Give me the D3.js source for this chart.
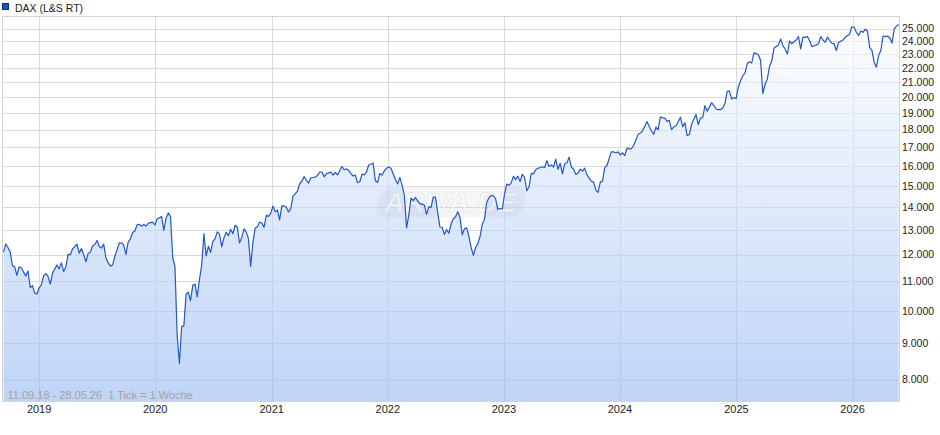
<!DOCTYPE html>
<html><head><meta charset="utf-8">
<script src="https://cdn.jsdelivr.net/npm/d3@7"></script>
<style>
html,body{margin:0;padding:0;background:#fff;}
svg{display:block;font-family:"Liberation Sans",Arial,Helvetica,sans-serif;}
</style></head><body>
<svg id="chart" width="940" height="435"></svg>
<script>
// ---- data (weekly ticks) ----
const seriesName = "DAX (L&S RT)";
const startDate = "2018-09-11";
const endDate = "2026-05-28";
const footnote = "11.09.18 - 28.05.26  1 Tick = 1 Woche";

const dax2018 = [12100, 12430, 12280, 12110, 11580, 11540, 11220, 11530, 11500, 11340, 11200, 11380, 10790, 10850, 10600, 10560];
const dax2019 = [10768, 10887, 11205, 11282, 11181, 10907, 11299, 11457, 11601, 11458, 11686, 11364, 11526, 12010, 11999, 12222, 12315, 12412, 12060, 12239, 12011, 11727, 12045, 12096, 12340, 12399, 12568, 12323, 12260, 12419, 11872, 11694, 11562, 11612, 11939, 12191, 12469, 12468, 12381, 12013, 12512, 12634, 12895, 12961, 13229, 13242, 13164, 13236, 13167, 13283, 13319, 13337, 13219];
const dax2020 = [13483, 13526, 13577, 12982, 13514, 13744, 13579, 11890, 11542, 9232, 8430, 9500, 9525, 10565, 10626, 10336, 10861, 10905, 10465, 11074, 11587, 12848, 11949, 12331, 12089, 12528, 12633, 12920, 12838, 12313, 12675, 12901, 12765, 13033, 12843, 13203, 13116, 12469, 12689, 13051, 12909, 12646, 11556, 12480, 13077, 13137, 13335, 13298, 13114, 13631, 13587, 13719];
const dax2021 = [14050, 13788, 13874, 13433, 14057, 14050, 13993, 13786, 13920, 14502, 14621, 14749, 15107, 15234, 15460, 15280, 15136, 15400, 15417, 15437, 15520, 15693, 15693, 15448, 15607, 15650, 15688, 15540, 15669, 15544, 15761, 15977, 15808, 15852, 15781, 15609, 15490, 15531, 15156, 15206, 15587, 15543, 15688, 16054, 16094, 16160, 15257, 15170, 15623, 15532, 15756, 15885];
const dax2022 = [15948, 15883, 15603, 15318, 15099, 15425, 15042, 14567, 13094, 13628, 14413, 14306, 14446, 14284, 14164, 14142, 14098, 13674, 14028, 13982, 14462, 14460, 13762, 13127, 13118, 12813, 13015, 12864, 13254, 13484, 13574, 13795, 13544, 12800, 13050, 13088, 12741, 12284, 11970, 12273, 12438, 12731, 13243, 13460, 14224, 14431, 14541, 14529, 14370, 13893, 13941, 13924];
const dax2023 = [14610, 15087, 15033, 15150, 15476, 15308, 15482, 15210, 15578, 15428, 14768, 14957, 15629, 15598, 15808, 15882, 15922, 15961, 15914, 16275, 15984, 16051, 15950, 16358, 15830, 16148, 15603, 16105, 16177, 16469, 15952, 15832, 15575, 15632, 15840, 15740, 15894, 15557, 15387, 15229, 15186, 14798, 14687, 15189, 15234, 15919, 16029, 16398, 16759, 16751, 16706, 16752];
const dax2024 = [16594, 16705, 16555, 16961, 16918, 16927, 17117, 17419, 17735, 17815, 17936, 18206, 18492, 18175, 17930, 17737, 18161, 18001, 18773, 18704, 18693, 18498, 18557, 18002, 18164, 18235, 18475, 18748, 18171, 18418, 17661, 17723, 18322, 18633, 18907, 18302, 18700, 18720, 19474, 19121, 19374, 19657, 19464, 19255, 19215, 19211, 19323, 19626, 20384, 20406, 19885, 19984, 19906];
const dax2025 = [20700, 21100, 21450, 21650, 22300, 22450, 22350, 23100, 23050, 22950, 22550, 20250, 20850, 21230, 22100, 22500, 23450, 23580, 23700, 24170, 23660, 23400, 23010, 24000, 23800, 23950, 24090, 24360, 23400, 24310, 24300, 24360, 24050, 23580, 23650, 23700, 23800, 24360, 24090, 23910, 24310, 24050, 23840, 23790, 23280, 23900, 24000, 24090, 24300, 24450, 24570, 25150];
const dax2026 = [25100, 24700, 24450, 24800, 24700, 24950, 24800, 23500, 23300, 22400, 22060, 22900, 23300, 24400, 24350, 24400, 24250, 23850, 24950, 25200, 25330];

const yTickValues = [8000, 9000, 10000, 11000, 12000, 13000, 14000, 15000, 16000, 17000, 18000, 19000, 20000, 21000, 22000, 23000, 24000, 25000];
const xTickYears = [2019, 2020, 2021, 2022, 2023, 2024, 2025, 2026];

// ---- build ----
const values = [].concat(dax2018, dax2019, dax2020, dax2021, dax2022, dax2023, dax2024, dax2025, dax2026);
const parse = d3.utcParse("%Y-%m-%d");
const t0 = parse(startDate), t1 = parse(endDate);
const data = values.map((v, i) => ({date: d3.utcDay.offset(t0, 7 * i), value: v}));

const svg = d3.select("#chart");
const P = {left: 2.5, right: 899.5, top: 16.5, bottom: 401.5};
const x = d3.scaleUtc().domain([t0, t1]).range([3.5, 899.3]);
const y = d3.scaleLog().domain([7450, 26000]).range([401.5, 16.5]);

const de = d3.formatLocale({decimal: ",", thousands: ".", grouping: [3], currency: ["", " €"]});
const fmt = de.format(",d");

const defs = svg.append("defs");
const grad = defs.append("linearGradient").attr("id", "fillGrad")
  .attr("gradientUnits", "userSpaceOnUse").attr("x1", 0).attr("x2", 0)
  .attr("y1", P.top).attr("y2", P.bottom);
grad.append("stop").attr("offset", "0%").attr("stop-color", "#ffffff");
grad.append("stop").attr("offset", "100%").attr("stop-color", "#93b7f2");
defs.append("clipPath").attr("id", "clip").append("rect")
  .attr("x", P.left).attr("y", P.top).attr("width", P.right - P.left).attr("height", P.bottom - P.top);

// grid
const grid = svg.append("g").attr("stroke", "#dadada").attr("stroke-width", 1).attr("shape-rendering", "crispEdges");
grid.selectAll("line.h").data(yTickValues).join("line").attr("class", "h")
  .attr("x1", P.left).attr("x2", P.right)
  .attr("y1", d => Math.round(y(d)) + 0.5).attr("y2", d => Math.round(y(d)) + 0.5);
const yearDates = xTickYears.map(yr => new Date(Date.UTC(yr, 0, 1)));
grid.selectAll("line.v").data(yearDates).join("line").attr("class", "v")
  .attr("y1", P.top).attr("y2", P.bottom)
  .attr("x1", d => Math.round(x(d)) + 0.5).attr("x2", d => Math.round(x(d)) + 0.5);

// area
const area = d3.area().x(d => x(d.date)).y0(P.bottom).y1(d => y(d.value));
svg.append("path").datum(data).attr("clip-path", "url(#clip)")
  .attr("d", area).attr("fill", "url(#fillGrad)").attr("fill-opacity", 0.6);

// frame
svg.append("rect").attr("x", P.left).attr("y", P.top)
  .attr("width", P.right - P.left).attr("height", P.bottom - P.top)
  .attr("fill", "none").attr("stroke", "#d4d4d4").attr("shape-rendering", "crispEdges");

// watermark
const wm = svg.append("g").attr("transform", "translate(450,202)");
wm.append("rect").attr("x", -72).attr("y", -15).attr("width", 146).attr("height", 30)
  .attr("rx", 10).attr("fill", "#8890a0").attr("fill-opacity", 0.08).attr("transform", "skewX(-12)");
wm.append("text").attr("text-anchor", "middle").attr("y", 10)
  .attr("font-size", 28).attr("font-weight", "bold").attr("font-style", "italic")
  .attr("fill", "#ffffff").attr("fill-opacity", 0.55).attr("stroke", "#c8cdd6").attr("stroke-opacity", 0.35)
  .text("ARIVA.DE");

// line
const line = d3.line().x(d => x(d.date)).y(d => y(d.value));
svg.append("path").datum(data).attr("clip-path", "url(#clip)")
  .attr("d", line).attr("fill", "none").attr("stroke", "#2357c2")
  .attr("stroke-width", 1.2).attr("stroke-linejoin", "round");

// y axis labels
svg.append("g").selectAll("text").data(yTickValues).join("text")
  .attr("x", 902).attr("y", d => y(d)).attr("dy", "0.35em")
  .attr("font-size", "10.5px").attr("fill", "#222").text(d => fmt(d));

// x axis labels
svg.append("g").selectAll("text").data(yearDates).join("text")
  .attr("x", d => x(d)).attr("y", 413).attr("text-anchor", "middle")
  .attr("font-size", "11px").attr("fill", "#222").text(d => d.getUTCFullYear());

// legend
svg.append("rect").attr("x", 2.5).attr("y", 3.5).attr("width", 6).attr("height", 6)
  .attr("fill", "#1f52b8").attr("stroke", "#0e2f73");
svg.append("text").attr("x", 15).attr("y", 11.5).attr("font-size", "10.5px").attr("fill", "#222").text(seriesName);

// footnote
svg.append("text").attr("x", 7.5).attr("y", 398.5).attr("font-size", "11px")
  .attr("fill", "#a2a2a2").style("white-space", "pre").text(footnote);
</script>
</body></html>
